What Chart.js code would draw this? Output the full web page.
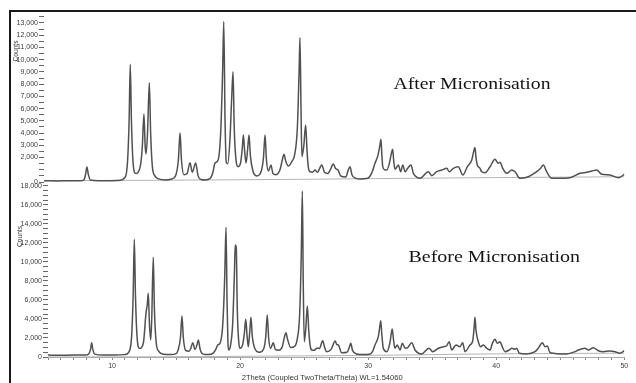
<!DOCTYPE html>
<html>
<head>
<meta charset="utf-8">
<title>XRD patterns - before / after micronisation</title>
<script src="https://cdn.jsdelivr.net/npm/chart.js@4.4.1/dist/chart.umd.min.js"></script>
<style>
    html, body { margin: 0; padding: 0; background: #fff; }
    body { width: 636px; height: 383px; position: relative; overflow: hidden; }
    .frame {
        position: absolute; left: 9px; top: 10px; width: 640px; height: 400px;
        border-left: 2px solid #1a1a1a; border-top: 2px solid #1a1a1a;
    }
    .panel { position: absolute; left: 0; }
    #afterPanel { top: 0; }
    #beforePanel { top: 170px; }
</style>
</head>
<body>
<div class="frame"></div>
<div class="panel" id="afterPanel"><canvas id="afterChart" width="636" height="190"></canvas></div>
<div class="panel" id="beforePanel"><canvas id="beforeChart" width="636" height="213"></canvas></div>

<script>
// ---------- data: 2Theta (deg) and counts ----------
const afterTheta = [
    5, 6, 7, 7.9,
    8.1, 8.22, 8.33, 8.44, 8.6,
    9.2, 10, 10.8,
    11.3, 11.48, 11.6, 11.69, 11.78, 11.9, 12.1,
    12.45, 12.62, 12.75, 12.84, 12.91, 13.02, 13.17, 13.27, 13.4, 13.6, 13.9,
    14.4, 14.9,
    15.2, 15.42, 15.55, 15.66, 15.85,
    16.1, 16.32, 16.5, 16.76, 16.95, 17.2,
    17.5, 17.9,
    18.1, 18.26, 18.5, 18.7, 18.85, 18.94, 19.04, 19.14, 19.25, 19.42, 19.56, 19.66, 19.75, 19.9, 20.05,
    20.25, 20.38, 20.46, 20.56, 20.67, 20.8, 20.9, 21.0, 21.2, 21.5,
    21.85, 22.02, 22.14, 22.25, 22.4, 22.6, 22.75, 23.0,
    23.3, 23.5, 23.61, 23.75, 23.95, 24.21, 24.45, 24.65, 24.78, 24.85, 24.93, 25.0, 25.15, 25.29, 25.4, 25.5, 25.63,
    25.82, 26.02, 26.2, 26.54, 26.75, 27.0, 27.2, 27.44, 27.6, 27.8, 28.0,
    28.4, 28.6, 28.73, 28.88, 29.2, 29.5, 30.1, 30.4,
    30.67, 30.9, 31.05, 31.13, 31.2, 31.27, 31.42, 31.58, 31.8, 31.95, 32.04, 32.12, 32.22,
    32.48, 32.66, 32.82, 33.0, 33.2, 33.46, 33.64, 33.9, 34.16,
    34.8, 35.07, 35.45, 35.84, 36.23, 36.43, 36.74, 37.13, 37.47, 37.83, 38.17, 38.3, 38.42, 38.5, 38.6,
    38.81, 38.94, 39.2, 39.59, 39.97, 40.23, 40.36, 40.57, 40.88, 41.27, 41.53, 41.91,
    42.56, 43.21, 43.5, 43.72, 43.98, 44.37, 45.0, 45.79,
    46.57, 47.09, 47.5, 47.86, 48.25, 48.89, 49.54, 49.93, 50
];
const afterCounts = [
    100, 90, 100, 110,
    180, 600, 1230, 600, 170,
    110, 110, 130,
    400, 1700, 5000, 9620, 5000, 1700, 700,
    1200, 2800, 5560, 3000, 2290, 3800, 8120, 4000, 1300, 500, 250,
    170, 250,
    500, 1800, 4030, 1800, 600,
    700, 1580, 800, 1550, 500, 200,
    160, 300,
    800, 1550, 1800, 4000, 9000, 13110, 5000, 1600, 1500, 3500, 7000, 9020, 4500, 1700, 1250,
    1600, 2800, 3840, 2500, 1550, 2800, 3840, 2200, 900, 500,
    900, 2000, 3840, 1800, 900, 1390, 700, 600,
    1000, 1900, 2260, 1700, 1300, 1660, 2300, 4500, 9000, 11800, 6000, 2070, 3000, 4660, 2500, 1200, 840,
    800, 980, 800, 1390, 800, 700, 1000, 1470, 1100, 980, 500,
    400, 1000, 1250, 600, 300, 250, 300, 700,
    1530, 2200, 3000, 3490, 2200, 1250, 1000, 980, 1600, 2400, 2670, 1700, 1040,
    1390, 840, 1390, 840, 1120, 1390, 710, 400, 300,
    840, 520, 840, 980, 1120, 840, 1120, 1250, 570, 1250, 1800, 2400, 2820, 2000, 1390,
    1120, 840, 760, 1250, 1860, 1530, 1610, 1120, 710, 980, 840, 300,
    430, 840, 1100, 1390, 840, 300, 300, 350,
    710, 790, 900, 980, 630, 570, 350, 570, 650
];
const afterBgTheta = [5, 15, 25, 32, 40, 50];
const afterBgCounts = [110, 150, 220, 290, 360, 430];

const beforeTheta = [
    5, 6, 7, 8.0,
    8.2, 8.32, 8.41, 8.5, 8.65,
    9.3, 10.2, 11.0,
    11.35, 11.53, 11.65, 11.74, 11.83, 11.95, 12.15,
    12.45, 12.65, 12.75, 12.83, 12.92, 13.02, 13.1, 13.22, 13.31, 13.45, 13.65, 14.0,
    14.6, 15.0,
    15.15, 15.34, 15.46, 15.57, 15.75, 16.0,
    16.15, 16.3, 16.48, 16.62, 16.74, 16.88, 17.1,
    17.5, 17.9,
    18.1, 18.25, 18.45, 18.65, 18.8, 18.9, 18.98, 19.05, 19.11, 19.25, 19.42, 19.56, 19.62, 19.7, 19.78, 19.9, 19.99,
    20.2, 20.34, 20.44, 20.54, 20.64, 20.75, 20.85, 20.95, 21.15, 21.5,
    21.85, 22.0, 22.12, 22.23, 22.38, 22.59, 22.75, 23.0,
    23.3, 23.48, 23.58, 23.7, 23.95, 24.21, 24.45, 24.65, 24.78, 24.86, 24.93, 25.01, 25.13, 25.25, 25.36, 25.47, 25.59,
    25.8, 25.98, 26.2, 26.45, 26.6, 26.76, 27.1, 27.43, 27.55, 27.67, 27.93,
    28.35, 28.52, 28.64, 28.78, 29.1, 29.6, 30.1, 30.35,
    30.53, 30.8, 30.92, 30.98, 31.06, 31.18, 31.45, 31.7, 31.82, 31.88, 31.98, 32.09,
    32.27, 32.49, 32.67, 32.88, 33.09, 33.4, 33.66, 34.18,
    34.75, 35.04, 35.48, 35.87, 36.13, 36.33, 36.52, 36.86, 37.17, 37.38, 37.56, 37.95, 38.16, 38.28, 38.34, 38.42, 38.6,
    38.79, 38.99, 39.25, 39.51, 39.72, 39.9, 40.08, 40.29, 40.47, 40.68, 41.02, 41.21, 41.47, 41.6, 41.8,
    42.38, 43.03, 43.28, 43.6, 43.81, 43.99, 44.2, 45.5,
    46.15, 46.41, 46.93, 47.19, 47.58, 47.97, 48.36, 48.88, 49.27, 49.66, 50
];
const beforeCounts = [
    200, 180, 200, 220,
    350, 800, 1510, 800, 300,
    200, 200, 250,
    600, 2200, 6500, 12390, 6500, 2200, 900,
    1500, 4600, 5500, 6710, 3500, 1790, 4000, 10490, 5000, 1500, 600, 300,
    250, 350,
    700, 2000, 4320, 2000, 700, 600,
    900, 1510, 800, 1200, 1790, 800, 300,
    250, 400,
    800, 1260, 1500, 3500, 8500, 13650, 6000, 1500, 740, 1200, 3500, 9000, 11790, 11500, 5000, 1500, 920,
    1300, 2600, 3970, 2300, 1080, 2600, 4180, 2200, 900, 500,
    900, 2100, 4420, 2000, 900, 1510, 800, 700,
    1100, 2200, 2560, 1900, 1000, 1080, 1800, 4500, 11000, 17470, 8000, 1610, 3000, 5370, 2800, 1200, 740,
    700, 920, 900, 1720, 1000, 560, 800, 1680, 1300, 1260, 450,
    500, 1000, 1440, 700, 320, 250, 300, 600,
    1260, 2200, 3300, 3820, 2500, 920, 560, 1500, 2600, 2950, 1800, 920,
    1260, 740, 1440, 920, 980, 1510, 740, 320,
    920, 560, 920, 1080, 1190, 1610, 740, 1260, 1080, 1510, 560, 1260, 1680, 3200, 4180, 2800, 1610,
    1080, 1260, 920, 740, 1510, 1860, 1440, 1610, 1080, 560, 740, 920, 810, 920, 390,
    320, 560, 920, 1510, 1080, 1160, 450, 320,
    560, 740, 920, 740, 980, 660, 560, 630, 560, 390, 660
];
const beforeBgTheta = [5, 15, 25, 32, 40, 50];
const beforeBgCounts = [0, 30, 120, 200, 330, 400];

// tick labels
const afterYLabels = [0, 2000, 3000, 4000, 5000, 6000, 7000, 8000, 9000, 10000, 11000, 12000, 13000];
const beforeYLabels = [0, 2000, 4000, 6000, 8000, 10000, 12000, 14000, 16000, 18000];
const xLabels = [10, 20, 30, 40, 50];

const afterTitle = "After Micronisation";
const beforeTitle = "Before Micronisation";
const xTitle = "2Theta (Coupled TwoTheta/Theta) WL=1.54060";
const yTitle = "Counts";

// ---------- helpers ----------
const toPoints = (xs, ys) => xs.map((x, i) => ({ x: x, y: ys[i] }));

function minorTicks(min, max, step) {
    const list = [];
    for (let v = min; v <= max + 1e-9; v += step) list.push({ value: v });
    return list;
}

const tickFont = { family: "'Liberation Sans', Arial, sans-serif", size: 7 };

// draws free text (panel captions, axis titles) at fixed spots
const panelText = {
    id: "panelText",
    afterDraw(chart, args, opts) {
        const ctx = chart.ctx;
        (opts.items || []).forEach((t) => {
            ctx.save();
            ctx.font = t.font;
            ctx.fillStyle = t.color || "#141414";
            ctx.textAlign = t.align || "left";
            ctx.textBaseline = t.baseline || "alphabetic";
            ctx.translate(t.x, t.y);
            if (t.rotate) ctx.rotate(t.rotate);
            if (t.width) ctx.scale(t.width / ctx.measureText(t.text).width, 1);
            ctx.fillText(t.text, 0, 0);
            ctx.restore();
        });
    },
};

function patternDatasets(theta, counts, bgTheta, bgCounts) {
    return [
        {
            data: toPoints(theta, counts),
            borderColor: "#505050",
            borderWidth: 1.5,
            pointRadius: 0,
            cubicInterpolationMode: "monotone",
        },
        {
            data: toPoints(bgTheta, bgCounts),
            borderColor: "#b4b4b4",
            borderWidth: 1,
            pointRadius: 0,
            tension: 0.3,
        },
    ];
}

function yScale(max, labels, width) {
    return {
        min: 0,
        max: max,
        afterFit: (s) => { s.width = width; },
        afterBuildTicks: (s) => { s.ticks = minorTicks(0, max, 500); },
        ticks: {
            autoSkip: false,
            padding: 1,
            color: "#3a3a3a",
            font: tickFont,
            callback: (v) => (labels.includes(v) ? v.toLocaleString("en-US") : ""),
        },
        grid: { drawOnChartArea: false, tickLength: 5, color: "#666" },
        border: { display: false },
    };
}

const common = {
    responsive: false,
    animation: false,
    events: [],
    plugins: { legend: { display: false }, tooltip: { enabled: false } },
};

// ---------- top panel: after micronisation ----------
new Chart(document.getElementById("afterChart"), {
    type: "line",
    data: { datasets: patternDatasets(afterTheta, afterCounts, afterBgTheta, afterBgCounts) },
    plugins: [panelText],
    options: {
        ...common,
        layout: { padding: { top: 15, right: 11.7, left: 0, bottom: 0 } },
        scales: {
            x: {
                type: "linear",
                min: 5,
                max: 50,
                afterFit: (s) => { s.height = 8; },
                ticks: { display: false },
                grid: { display: false },
                border: { display: false },
            },
            y: yScale(13650, afterYLabels, 44),
        },
        plugins: {
            ...common.plugins,
            panelText: {
                items: [
                    { text: afterTitle, x: 393.5, y: 88.5, width: 157, font: "17px 'Liberation Serif', 'Times New Roman', serif" },
                    { text: yTitle, x: 15.5, y: 51, rotate: -Math.PI / 2, align: "center", baseline: "middle", width: 21, font: "8px 'Liberation Sans', Arial, sans-serif", color: "#333" },
                ],
            },
        },
    },
});

// ---------- bottom panel: before micronisation ----------
new Chart(document.getElementById("beforeChart"), {
    type: "line",
    data: { datasets: patternDatasets(beforeTheta, beforeCounts, beforeBgTheta, beforeBgCounts) },
    plugins: [panelText],
    options: {
        ...common,
        layout: { padding: { top: 12, right: 11.7, left: 0, bottom: 0 } },
        scales: {
            x: {
                type: "linear",
                min: 5,
                max: 50,
                afterFit: (s) => { s.height = 26; },
                afterBuildTicks: (s) => { s.ticks = minorTicks(5, 50, 1); },
                ticks: {
                    autoSkip: false,
                    maxRotation: 0,
                    padding: 1.5,
                    color: "#3a3a3a",
                    font: tickFont,
                    callback: (v) => (xLabels.includes(v) ? String(v) : ""),
                },
                grid: { drawOnChartArea: false, tickLength: 3, color: "#888" },
                border: { display: true, color: "#aaa", width: 1 },
            },
            y: yScale(18420, beforeYLabels, 48),
        },
        plugins: {
            ...common.plugins,
            panelText: {
                items: [
                    { text: beforeTitle, x: 408.5, y: 92.3, width: 171.5, font: "17px 'Liberation Serif', 'Times New Roman', serif" },
                    { text: yTitle, x: 19.5, y: 66.5, rotate: -Math.PI / 2, align: "center", baseline: "middle", width: 21, font: "8px 'Liberation Sans', Arial, sans-serif", color: "#333" },
                    { text: xTitle, x: 241.7, y: 208, baseline: "middle", width: 161, font: "7.5px 'Liberation Sans', Arial, sans-serif", color: "#333" },
                ],
            },
        },
    },
});
</script>
</body>
</html>
